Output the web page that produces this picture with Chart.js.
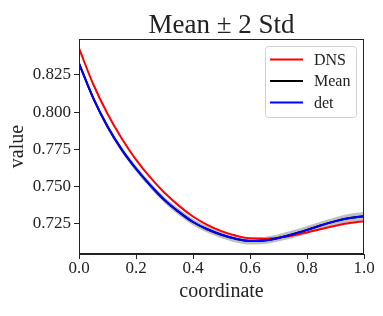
<!DOCTYPE html>
<html>
<head>
<meta charset="utf-8">
<script src="https://cdn.jsdelivr.net/npm/chart.js@4.4.1/dist/chart.umd.min.js"></script>
<style>
  html, body { margin: 0; padding: 0; background: #fff; }
  #wrap { width: 383px; height: 316px; }
</style>
</head>
<body>
<div id="wrap"><canvas id="chart" width="383" height="316"></canvas></div>
<script>
// Data
const coordinate = [0, 0.05, 0.1, 0.15, 0.2, 0.25, 0.3, 0.35, 0.4, 0.45, 0.5,
                    0.55, 0.6, 0.65, 0.7, 0.75, 0.8, 0.85, 0.9, 0.95, 1.0];
const dns  = [0.8429, 0.8187, 0.7989, 0.7823, 0.7681, 0.7561, 0.7458, 0.7372, 0.7299, 0.7243, 0.7201,
              0.7171, 0.7152, 0.7150, 0.7157, 0.7171, 0.7192, 0.7215, 0.7237, 0.7255, 0.7267];
const mean = [0.8328, 0.8094, 0.7903, 0.7748, 0.7620, 0.7509, 0.7410, 0.7330, 0.7262, 0.7213, 0.7176,
              0.7149, 0.7135, 0.7138, 0.7155, 0.7180, 0.7209, 0.7240, 0.7268, 0.7289, 0.7301];
const det  = [0.8328, 0.8094, 0.7903, 0.7748, 0.7620, 0.7509, 0.7410, 0.7330, 0.7262, 0.7213, 0.7176,
              0.7149, 0.7135, 0.7138, 0.7155, 0.7180, 0.7209, 0.7240, 0.7268, 0.7289, 0.7301];
const std  = [0.0008, 0.0008, 0.0009, 0.0009, 0.0010, 0.0010, 0.0010, 0.0011, 0.0011, 0.0011, 0.0012,
              0.0012, 0.0012, 0.0012, 0.0012, 0.0013, 0.0013, 0.0013, 0.0013, 0.0014, 0.0014];
const xTicks = [0, 0.2, 0.4, 0.6, 0.8, 1.0];
const yTicks = [0.725, 0.75, 0.775, 0.8, 0.825];
const legendOrder = ['DNS', 'Mean', 'det'];

const FONT = "'Liberation Serif', 'Times New Roman', serif";

const pts = arr => coordinate.map((x, i) => ({x: x, y: arr[i]}));
const upper = coordinate.map((x, i) => ({x: x, y: mean[i] + 2 * std[i]}));
const lower = coordinate.map((x, i) => ({x: x, y: mean[i] - 2 * std[i]}));

const lineStyle = {
    pointRadius: 0,
    borderWidth: 2,
    cubicInterpolationMode: 'monotone',
    fill: false
};

// frame + legend drawn inside the plot, like matplotlib
const framePlugin = {
    id: 'frame',
    afterDraw(chart) {
        const {ctx, chartArea: a} = chart;
        ctx.save();
        ctx.strokeStyle = '#222';
        ctx.lineWidth = 1;
        ctx.strokeRect(a.left + 0.5, a.top + 0.5, a.right - a.left - 1, a.bottom - a.top - 1);

        // legend box
        const bx = 265.5, by = 46.5, bw = 91, bh = 71, r = 3;
        ctx.fillStyle = 'rgba(255,255,255,0.8)';
        ctx.strokeStyle = '#d0d0d0';
        ctx.beginPath();
        ctx.roundRect(bx, by, bw, bh, r);
        ctx.fill();
        ctx.stroke();

        ctx.font = '16px ' + FONT;
        ctx.textBaseline = 'middle';
        ctx.textAlign = 'left';
        legendOrder.forEach((name, i) => {
            const d = chart.data.datasets.find(ds => ds.label === name);
            const y = 59.5 + i * 21.5;
            ctx.strokeStyle = d.borderColor;
            ctx.lineWidth = 2;
            ctx.beginPath();
            ctx.moveTo(270, y);
            ctx.lineTo(303, y);
            ctx.stroke();
            ctx.fillStyle = '#222';
            ctx.fillText(d.label, 314, y + 1);
        });
        ctx.restore();
    }
};

new Chart(document.getElementById('chart'), {
    type: 'line',
    data: {
        datasets: [
            Object.assign({label: 'det', data: pts(det), borderColor: '#0000ff', order: 1}, lineStyle),
            Object.assign({label: 'Mean', data: pts(mean), borderColor: '#000000', order: 2}, lineStyle),
            Object.assign({label: 'DNS', data: pts(dns), borderColor: '#ff0000', order: 3}, lineStyle),
            {label: 'upper', data: upper, borderWidth: 0, pointRadius: 0, cubicInterpolationMode: 'monotone',
             borderColor: 'rgba(0,0,0,0)', backgroundColor: 'rgba(128,128,128,0.5)', fill: '+1', order: 4},
            {label: 'lower', data: lower, borderWidth: 0, pointRadius: 0, cubicInterpolationMode: 'monotone',
             borderColor: 'rgba(0,0,0,0)', fill: false, order: 5}
        ]
    },
    options: {
        responsive: false,
        animation: false,
        devicePixelRatio: 1,
        layout: {padding: {left: 0, right: 19, top: 0, bottom: 0}},
        plugins: {
            legend: {display: false},
            tooltip: {enabled: false},
            title: {
                display: true,
                fullSize: false,
                text: 'Mean \u00b1 2 Std',
                color: '#222',
                font: {family: FONT, size: 27, weight: 'normal', lineHeight: 1},
                padding: {top: 12, bottom: 0}
            }
        },
        scales: {
            x: {
                type: 'linear',
                min: 0,
                max: 1,
                afterBuildTicks: s => { s.ticks = xTicks.map(v => ({value: v})); },
                afterFit: s => { s.height = 62; },
                grid: {drawOnChartArea: false, drawTicks: true, tickLength: 5, color: '#222'},
                border: {display: true, color: '#222'},
                ticks: {
                    color: '#222',
                    padding: 1,
                    maxRotation: 0,
                    font: {family: FONT, size: 17, lineHeight: 1},
                    callback: v => v.toFixed(1)
                },
                title: {
                    display: true,
                    text: 'coordinate',
                    color: '#222',
                    font: {family: FONT, size: 20, lineHeight: 1},
                    padding: {top: 0, bottom: 14}
                }
            },
            y: {
                type: 'linear',
                min: 0.7047,
                max: 0.8491,
                afterBuildTicks: s => { s.ticks = yTicks.map(v => ({value: v})); },
                afterFit: s => { s.width = 79; },
                grid: {drawOnChartArea: false, drawTicks: true, tickLength: 5, color: '#222'},
                border: {display: true, color: '#222'},
                ticks: {
                    color: '#222',
                    padding: 3,
                    font: {family: FONT, size: 17, lineHeight: 1},
                    callback: v => v.toFixed(3)
                },
                title: {
                    display: true,
                    text: 'value',
                    color: '#222',
                    font: {family: FONT, size: 20, lineHeight: 1},
                    padding: {top: 7.5, bottom: 0}
                }
            }
        }
    },
    plugins: [framePlugin]
});
</script>
</body>
</html>
